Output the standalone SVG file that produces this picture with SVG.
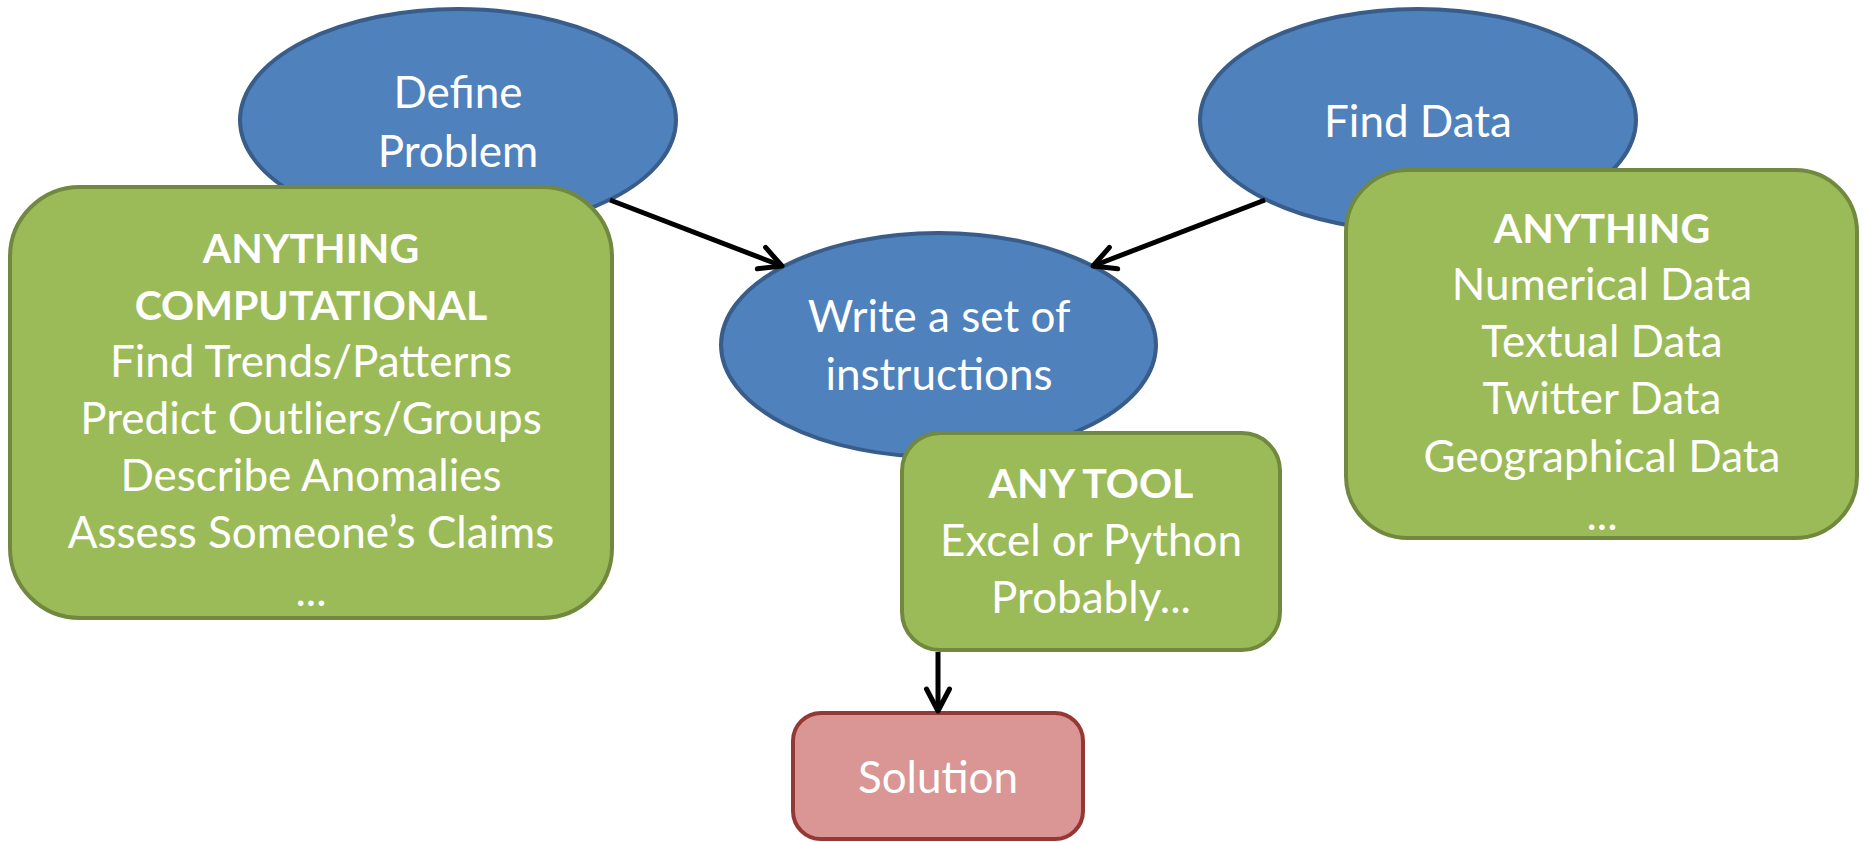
<svg xmlns="http://www.w3.org/2000/svg" width="1864" height="842" viewBox="0 0 1864 842">
<style>
.blue{fill:#4F81BD;stroke:#385D8A;stroke-width:4}
.green{fill:#9BBB59;stroke:#71893F;stroke-width:4}
.red{fill:#D99694;stroke:#953735;stroke-width:4}
text{font-family:Lato,"Open Sans","Liberation Sans",sans-serif;font-size:44px;fill:#FFFFFF;text-anchor:middle}
.b{font-weight:bold;font-size:41px}
.conn{stroke:#000;stroke-width:5;fill:none}
</style>
<defs>
<marker id="arr" markerUnits="userSpaceOnUse" markerWidth="40" markerHeight="40" refX="0" refY="0" viewBox="-30 -20 40 40" orient="auto" overflow="visible">
<path d="M-22,-11.5 L0,0 L-22,11.5" fill="none" stroke="#000" stroke-width="5" stroke-linecap="round" stroke-linejoin="round"/>
</marker>
</defs>
<g id="define-problem">
<ellipse class="blue" cx="458" cy="120" rx="218" ry="111"/>
<text x="458" y="108">Define</text>
<text x="458" y="167">Problem</text>
</g>
<g id="find-data">
<ellipse class="blue" cx="1418" cy="120" rx="218" ry="111"/>
<text x="1418" y="137">Find Data</text>
</g>
<g id="write-instructions">
<ellipse class="blue" cx="938.5" cy="345" rx="217.5" ry="112"/>
<text x="939" y="332">Write a set of</text>
<text x="939" y="390">instructions</text>
</g>
<g id="anything-computational">
<rect class="green" x="10" y="187" width="602" height="431" rx="70" ry="70"/>
<text class="b" x="311" y="263">ANYTHING</text>
<text class="b" x="311" y="320">COMPUTATIONAL</text>
<text x="311" y="377">Find Trends/Patterns</text>
<text x="311" y="434">Predict Outliers/Groups</text>
<text x="311" y="491">Describe Anomalies</text>
<text x="311" y="548">Assess Someone’s Claims</text>
<text x="311" y="606">...</text>
</g>
<g id="anything-data">
<rect class="green" x="1346" y="170" width="511" height="368" rx="62" ry="62"/>
<text class="b" x="1602" y="243">ANYTHING</text>
<text x="1602" y="300">Numerical Data</text>
<text x="1602" y="357">Textual Data</text>
<text x="1602" y="414">Twitter Data</text>
<text x="1602" y="472">Geographical Data</text>
<text x="1602" y="530">...</text>
</g>
<g id="any-tool">
<rect class="green" x="902" y="433" width="378" height="217" rx="38" ry="38"/>
<text class="b" x="1091" y="498">ANY TOOL</text>
<text x="1091" y="556">Excel or Python</text>
<text x="1091" y="613">Probably...</text>
</g>
<g id="solution">
<rect class="red" x="793" y="713" width="290" height="126" rx="28" ry="28"/>
<text x="938" y="793">Solution</text>
</g>
<g id="connectors">
<line class="conn" x1="610" y1="200" x2="782" y2="266" marker-end="url(#arr)"/>
<line class="conn" x1="1265" y1="200" x2="1093" y2="266" marker-end="url(#arr)"/>
<line class="conn" x1="938" y1="652" x2="938" y2="711" marker-end="url(#arr)"/>
</g>
</svg>
